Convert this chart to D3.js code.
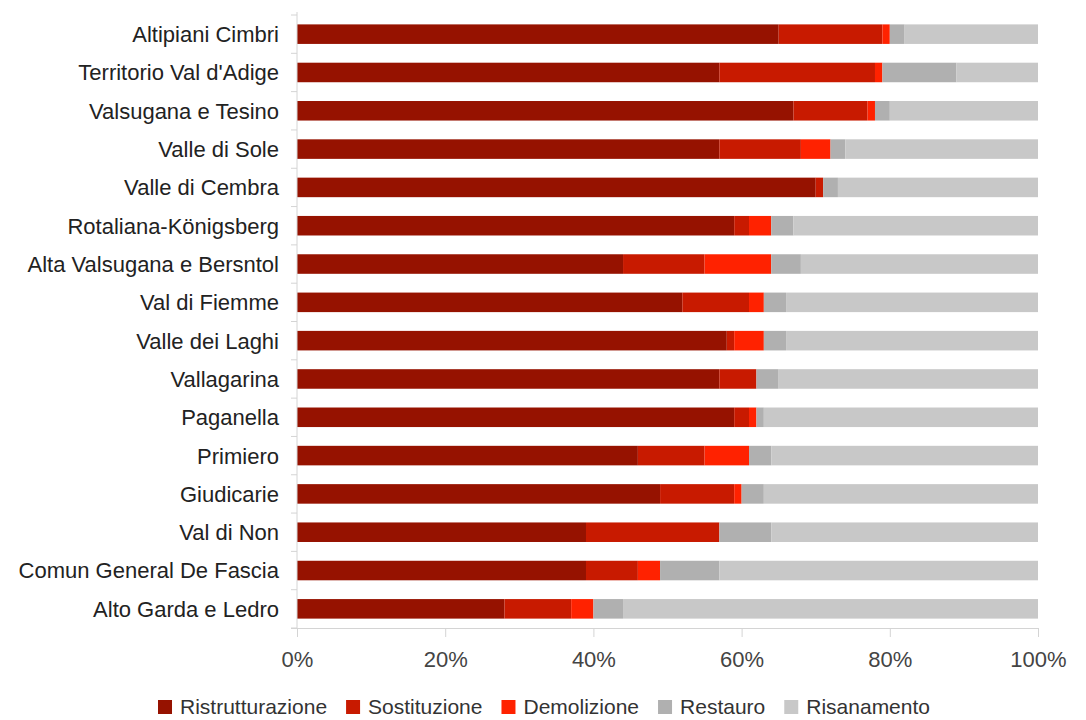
<!DOCTYPE html>
<html>
  <head>
    <meta charset="UTF-8">
    <style>
      body {
        margin: 0;
        background: #fff;
      }

      .cat {
        font-family: "Liberation Sans", Arial, sans-serif;
        font-size: 22px;
        fill: #222;
      }

      .tick-label {
        font-family: "Liberation Sans", Arial, sans-serif;
        font-size: 22px;
        fill: #444;
      }

      .legend text {
        font-family: "Liberation Sans", Arial, sans-serif;
        font-size: 21px;
        fill: #333;
      }
    </style>
    <script src="https://d3js.org/d3.v7.min.js"></script>
  </head>

  <body>
    <svg id="chart"></svg>

    <script type="text/javascript">
      let categories = [
        'Altipiani Cimbri', 'Territorio Val d\'Adige', 'Valsugana e Tesino', 'Valle di Sole',
        'Valle di Cembra', 'Rotaliana-Königsberg', 'Alta Valsugana e Bersntol', 'Val di Fiemme',
        'Valle dei Laghi', 'Vallagarina', 'Paganella', 'Primiero',
        'Giudicarie', 'Val di Non', 'Comun General De Fascia', 'Alto Garda e Ledro'
      ]

      let seriesNames = ['Ristrutturazione', 'Sostituzione', 'Demolizione', 'Restauro', 'Risanamento']

      let ristrutturazione = [65, 57, 67, 57, 70, 59, 44, 52, 58, 57, 59, 46, 49, 39, 39, 28]
      let sostituzione     = [14, 21, 10, 11,  1,  2, 11,  9,  1,  5,  2,  9, 10, 18,  7,  9]
      let demolizione      = [ 1,  1,  1,  4,  0,  3,  9,  2,  4,  0,  1,  6,  1,  0,  3,  3]
      let restauro         = [ 2, 10,  2,  2,  2,  3,  4,  3,  3,  3,  1,  3,  3,  7,  8,  4]
      let risanamento      = [18, 11, 20, 26, 27, 33, 32, 34, 34, 35, 37, 36, 37, 36, 43, 56]

      let xTicks = [0, 0.2, 0.4, 0.6, 0.8, 1]
      let colors = ['#961200', '#c81a00', '#ff2200', '#b0b0b0', '#c8c8c8']

      let width = 1086
      let height = 720
      let margin = {top: 15, right: 48, bottom: 92, left: 297}

      let svg = d3.select('#chart')
        .attr('width', width)
        .attr('height', height)

      let rows = categories.map((c, i) => ({
        category: c,
        Ristrutturazione: ristrutturazione[i],
        Sostituzione: sostituzione[i],
        Demolizione: demolizione[i],
        Restauro: restauro[i],
        Risanamento: risanamento[i]
      }))

      let stacked = d3.stack()
        .keys(seriesNames)
        .offset(d3.stackOffsetExpand)(rows)

      let x = d3.scaleLinear()
        .domain([0, 1])
        .range([margin.left, width - margin.right])

      let y = d3.scaleBand()
        .domain(categories)
        .range([margin.top, height - margin.bottom])
        .paddingInner(0.49)
        .paddingOuter(0.245)

      let color = d3.scaleOrdinal()
        .domain(seriesNames)
        .range(colors)

      let axisColor = '#d4d4d4'
      let plotBottom = height - margin.bottom

      // bars
      svg.append('g')
        .selectAll('g')
        .data(stacked)
        .join('g')
          .attr('fill', d => color(d.key))
        .selectAll('rect')
        .data(d => d)
        .join('rect')
          .attr('x', d => x(d[0]))
          .attr('y', d => y(d.data.category))
          .attr('width', d => x(d[1]) - x(d[0]))
          .attr('height', y.bandwidth())

      // left axis: line + ticks between the bands
      let step = y.step()
      let boundaries = categories.map(c => y(c) - (step - y.bandwidth()) / 2)
      boundaries.push(plotBottom)

      svg.append('line')
        .attr('x1', x(0)).attr('x2', x(0))
        .attr('y1', boundaries[0] - 3).attr('y2', plotBottom)
        .attr('stroke', axisColor)

      svg.append('g')
        .selectAll('line')
        .data(boundaries)
        .join('line')
          .attr('x1', x(0) - 6).attr('x2', x(0))
          .attr('y1', d => d).attr('y2', d => d)
          .attr('stroke', axisColor)

      svg.append('g')
        .selectAll('text')
        .data(categories)
        .join('text')
          .attr('class', 'cat')
          .attr('x', x(0) - 18)
          .attr('y', d => y(d) + y.bandwidth() / 2)
          .attr('dy', '0.36em')
          .attr('text-anchor', 'end')
          .text(d => d)

      // bottom axis
      let xAxis = svg.append('g')
        .attr('transform', `translate(0, ${plotBottom})`)
        .call(d3.axisBottom(x)
          .tickValues(xTicks)
          .tickFormat(d3.format('.0%'))
          .tickSize(9)
          .tickPadding(14)
          .tickSizeOuter(0))

      xAxis.select('.domain')
        .attr('stroke', axisColor)
        .attr('d', `M${x(0) - 6},0.5H${x(1)}`)
      xAxis.selectAll('.tick line').attr('stroke', axisColor)
      xAxis.selectAll('.tick text')
        .attr('class', 'tick-label')
        .attr('fill', null)
        .attr('font-size', null)
        .attr('font-family', null)

      // legend
      let legend = svg.append('g')
        .attr('class', 'legend')
        .attr('transform', `translate(0, ${height - 6})`)

      let items = legend.selectAll('g')
        .data(seriesNames)
        .join('g')

      items.append('rect')
        .attr('width', 14)
        .attr('height', 14)
        .attr('y', -14)
        .attr('fill', d => color(d))

      items.append('text')
        .attr('x', 22)
        .attr('y', 0)
        .text(d => d)

      let offsets = []
      let total = 0
      items.each(function() {
        offsets.push(total)
        total += this.getBBox().width + 19
      })
      total -= 19
      let start = (width - total) / 2 + 1
      items.attr('transform', (d, i) => `translate(${start + offsets[i]}, 0)`)
    </script>
  </body>
</html>
